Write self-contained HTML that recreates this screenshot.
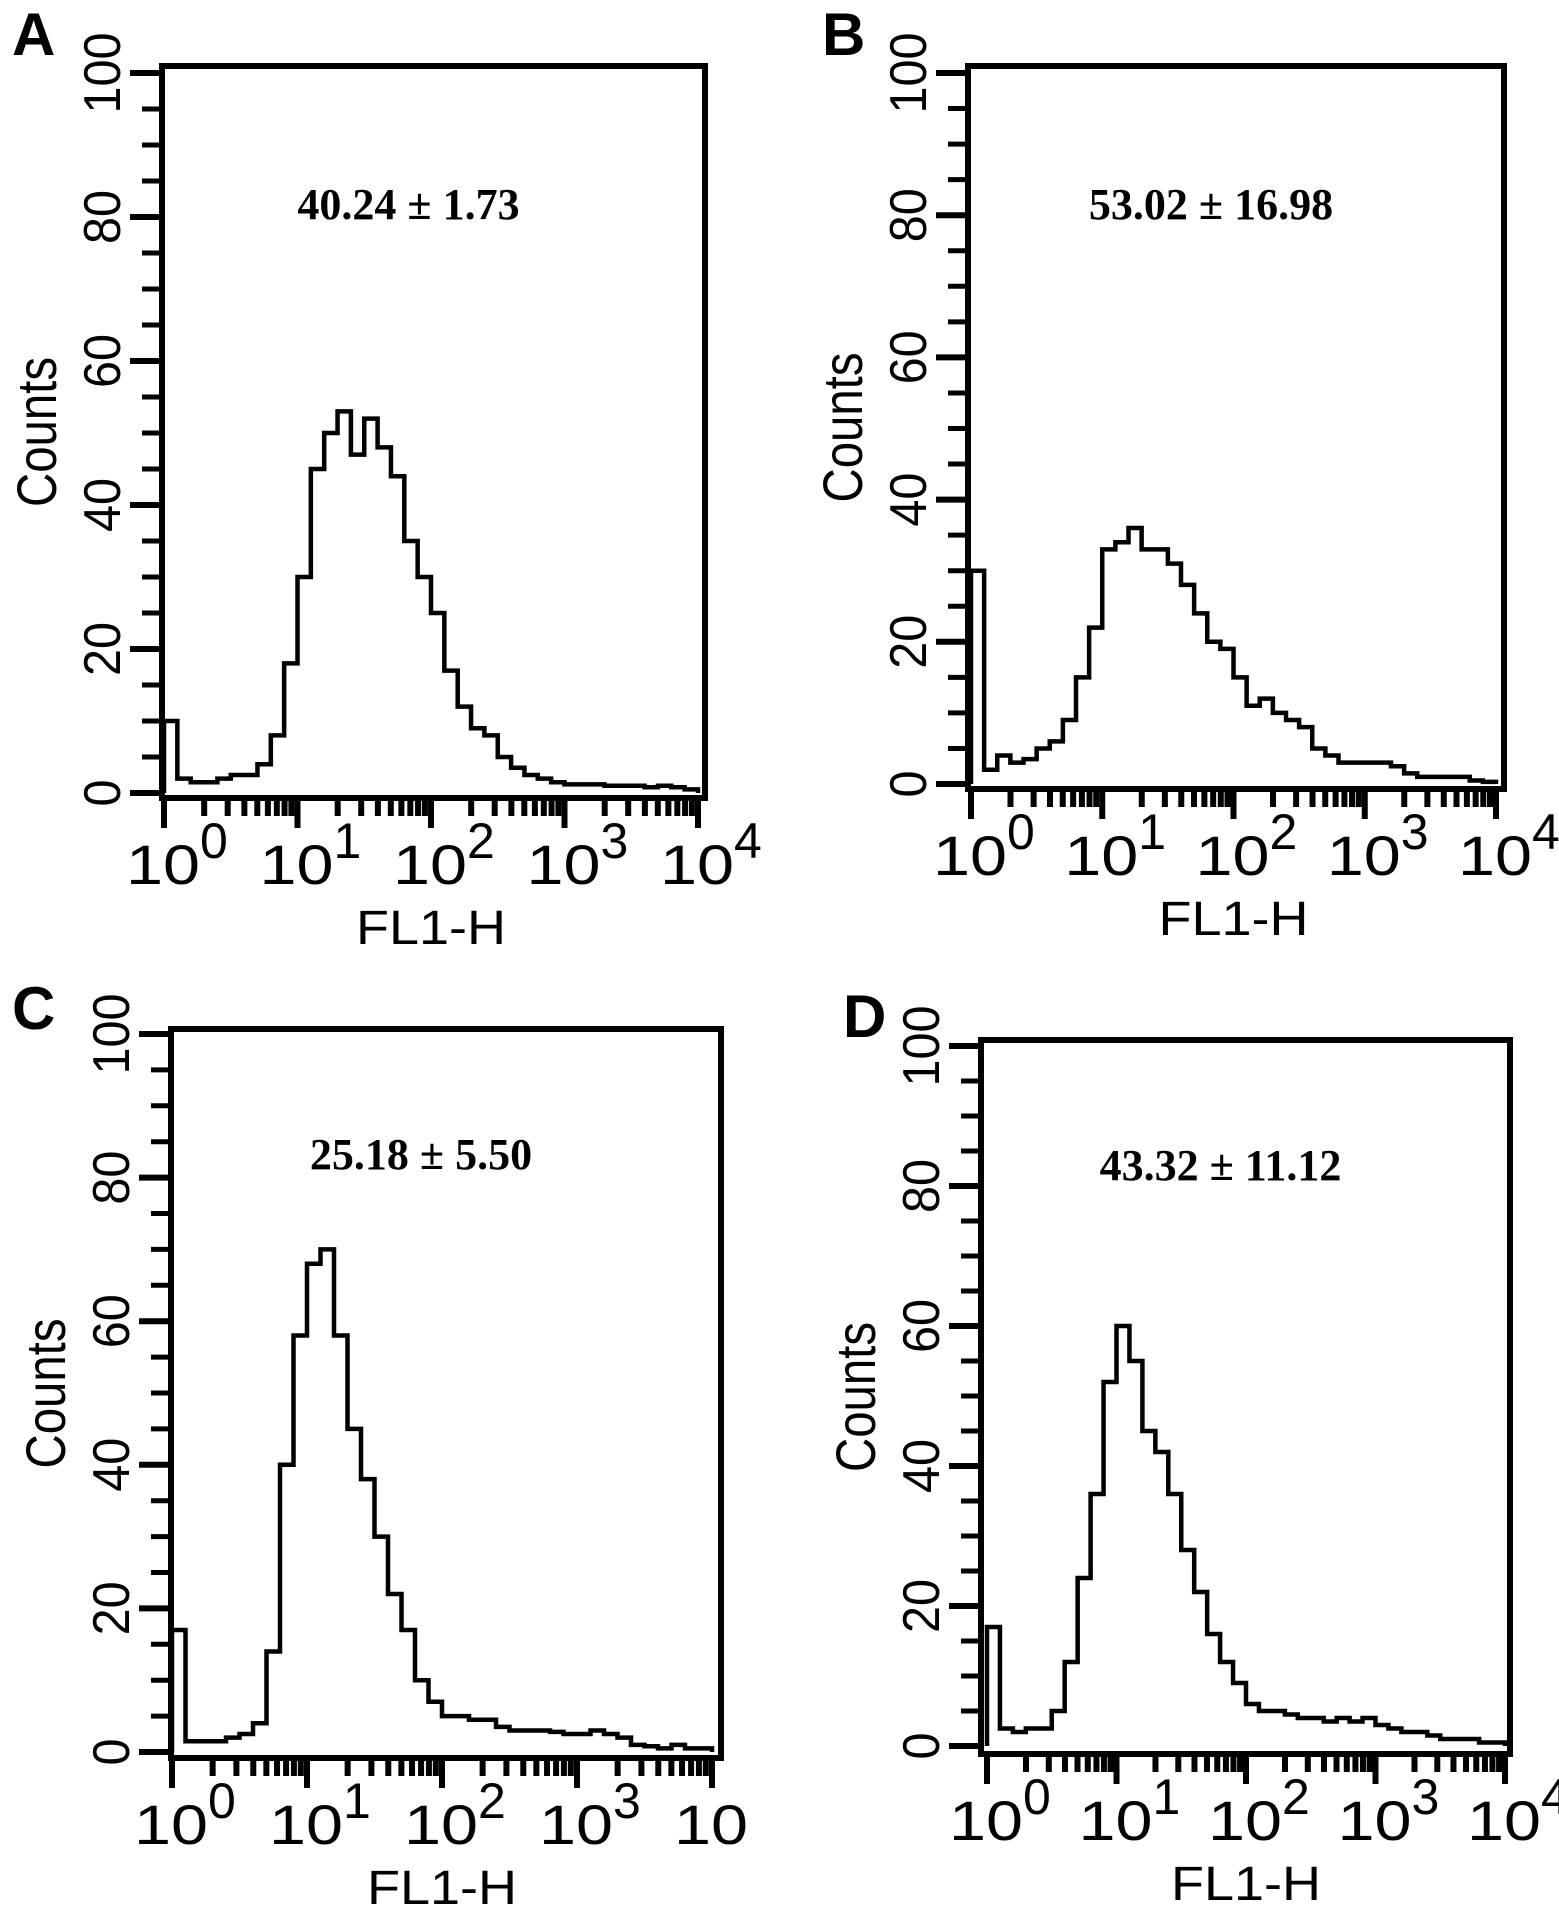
<!DOCTYPE html>
<html><head><meta charset="utf-8"><style>
html,body{margin:0;padding:0;background:#fff;}
svg{display:block;}
text{font-family:"Liberation Sans",Arial,sans-serif;fill:#000;}
</style></head><body>
<svg id="fig" width="1559" height="1910" viewBox="0 0 1559 1910" xmlns="http://www.w3.org/2000/svg"></svg>
<script>
// Histogram data: counts per 0.1-decade bin from 10^0 to 10^4 (40 bins)
const binDecades = 0.1;
const countsA = [10,2,1.5,1.5,2,2.5,2.5,4,8,18,30,45,50,53,47,52,48,44,35,30,25,17,12,9,8,5,3.5,2.5,2,1.5,1.2,1.2,1.2,1,1,1,0.8,1,0.8,0.5];
const countsB = [30,2,4,3,3.5,5,6,9,15,22,33,34,36,33,33,31,28,24,20,19,15,11,12,10,9,8,5,4,3,3,3,3,2.5,1.5,1,1,1,1,0.5,0.3];
const countsC = [17,1.5,1.5,1.5,2,2.5,4,14,40,58,68,70,58,45,38,30,22,17,10,7,5,5,4.5,4.5,3.5,3,3,3,2.8,2.5,2.5,3,2.5,2,1,0.8,0.5,1,0.5,0.5];
const countsD = [17,2.5,2,2.5,2.5,5,12,24,36,52,60,55,45,42,36,28,22,16,12,9,6,5,5,4.5,4,4,3.5,4,3.5,4,3,2.5,2,2,1.5,1,1,1,0.5,0.5];
const yTickLabels = ["0","20","40","60","80","100"];
const xDecades = [0,1,2,3,4];
const statsLabels = ["40.24 ± 1.73","53.02 ± 16.98","25.18 ± 5.50","43.32 ± 11.12"];
const panelLetters = ["A","B","C","D"];

const NS="http://www.w3.org/2000/svg";
const svg=document.getElementById('fig');
function mk(tag,attrs,parent){const e=document.createElementNS(NS,tag);for(const k in attrs)e.setAttribute(k,attrs[k]);(parent||svg).appendChild(e);return e;}

const panels=[
 {data:countsA,bx0:162,bx1:705,by0:66,by1:798,x0:164,x4:698,y100:73,y0:793,lx:12,ly:55,cut:false},
 {data:countsB,bx0:968,bx1:1504,by0:66,by1:789,x0:971,x4:1496,y100:73,y0:784,lx:822,ly:55,cut:false},
 {data:countsC,bx0:171,bx1:721,by0:1029,by1:1758,x0:172,x4:712,y100:1034,y0:1752,lx:12,ly:1029,cut:true},
 {data:countsD,bx0:981,bx1:1510,by0:1040,by1:1754,x0:987,x4:1505,y100:1046,y0:1746,lx:843,ly:1037,cut:false}
];

panels.forEach((p,pi)=>{
  const g=mk('g',{});
  
  
  const xs=d=>p.x0+(p.x4-p.x0)*d/4;
  const ys=v=>p.y0+(p.y100-p.y0)*v/100;
  const L=mk('text',{x:p.lx,y:p.ly,'font-size':60,'font-weight':'bold'},g);
  L.textContent=panelLetters[pi];
  
  
  const box=mk('rect',{x:p.bx0,y:p.by0,width:p.bx1-p.bx0,height:p.by1-p.by0,fill:'none',stroke:'#000','stroke-width':6},g);
  
  
  for(let v=0;v<=100;v+=5){
    const y=ys(v);const major=v%20===0;
    const t=mk('line',{x1:p.bx0-(major?32:20),x2:p.bx0,y1:y,y2:y,stroke:'#000','stroke-width':major?6:5},g);
    
    
  }
  yTickLabels.forEach((lab,i)=>{
    const y=ys(i*20);const cx=p.bx0-58;
    const t=mk('text',{x:0,y:0,'font-size':52,'text-anchor':'middle',transform:`translate(${cx+16},${y}) rotate(-90)`,textLength:lab.length*27,lengthAdjust:'spacingAndGlyphs'},g);
    t.textContent=lab;
    
    
  });
  const yc=(p.by0+p.by1)/2;
  const ct=mk('text',{x:0,y:0,'font-size':56,'text-anchor':'middle',transform:`translate(${p.bx0-106},${yc}) rotate(-90)`,textLength:150,lengthAdjust:'spacingAndGlyphs'},g);
  ct.textContent='Counts';
  
  
  for(let d=0;d<4;d++){
    for(let m=1;m<10;m++){
      const x=xs(d+Math.log10(m));const major=m===1;
      const t=mk('line',{x1:x,x2:x,y1:p.by1,y2:p.by1+(major?30:18),stroke:'#000','stroke-width':6},g);
      
      
    }
  }
  const tl=mk('line',{x1:xs(4),x2:xs(4),y1:p.by1,y2:p.by1+30,stroke:'#000','stroke-width':6},g);
  
  
  xDecades.forEach(d=>{
    const x=xs(d);
    const t=mk('text',{x:x-38,y:p.by1+86,'font-size':56,textLength:74,lengthAdjust:'spacingAndGlyphs'},g);
    t.textContent='10';
    
    
    if(!(p.cut&&d===4)){
      const e=mk('text',{x:x+36,y:p.by1+60,'font-size':50},g);
      e.textContent=String(d);
      
      
    }
  });
  const xt=mk('text',{x:(p.x0+p.x4)/2,y:p.by1+146,'font-size':48,'text-anchor':'middle',textLength:150,lengthAdjust:'spacingAndGlyphs'},g);
  xt.textContent='FL1-H';
  
  
  const st=mk('text',{x:(p.bx0+p.bx1)/2-25,y:p.by0+(pi<2?153:140),'font-size':44,'font-weight':'bold','text-anchor':'middle',style:'font-family:"Liberation Serif",serif'},g);
  st.textContent=statsLabels[pi];
  
  
  let dstr='';
  p.data.forEach((v,i)=>{
    const xa=xs(i*binDecades),xb=xs((i+1)*binDecades),y=ys(v);
    dstr+=(i===0?`M${xa},${ys(0)} L${xa},${y}`:` L${xa},${y}`)+` L${xb},${y}`;
  });
  dstr+=` L${xs(p.data.length*binDecades)},${ys(0)}`;
  const h=mk('path',{d:dstr,fill:'none',stroke:'#000','stroke-width':4.5,'stroke-linejoin':'miter'},g);
  
  
});
</script>
</body></html>
